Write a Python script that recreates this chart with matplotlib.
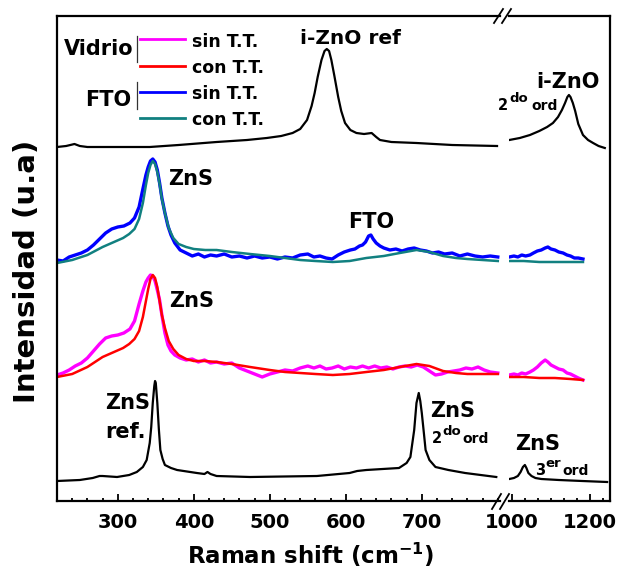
import matplotlib
matplotlib.use("Agg")
import matplotlib.pyplot as plt
from matplotlib.lines import Line2D
from matplotlib.ticker import FixedLocator, MultipleLocator

plt.rcParams['font.family'] = ['DejaVu Sans']
plt.rcParams['font.weight'] = 'bold'
plt.rcParams['mathtext.fontset'] = 'dejavusans'
plt.rcParams['mathtext.default'] = 'bf'

# ---------------- data (left segment: 220-800 cm-1) ----------------
zns_ref_x = [220, 250, 267, 276, 280, 299, 315, 325, 333, 338, 342, 344, 346, 348, 349, 350, 352, 354,
             356, 359, 362, 370, 378, 404, 414, 418, 422, 430, 474, 562, 605, 615, 627, 670, 680, 685,
             690, 693, 696, 698, 700, 703, 705, 710, 718, 735, 757, 798]
zns_ref_y = [20, 21, 23, 25, 25, 24, 26, 29, 34, 41, 58, 74, 98, 115, 120, 118, 98, 72,
             51, 42, 36, 33, 31, 28, 27, 29, 27, 25, 24, 25, 28, 30, 31, 33, 38, 44,
             71, 98, 108, 100, 88, 66, 51, 41, 34, 31, 28, 24]

izno_ref_x = [220, 232, 243, 250, 260, 300, 342, 380, 430, 470, 496, 515, 530, 540, 549, 555, 559, 563,
              568, 572, 575, 578, 581, 585, 590, 594, 599, 606, 614, 624, 634, 640, 645, 660, 693, 740, 799]
izno_ref_y = [354, 355, 357, 355, 354, 354, 354, 356, 359, 361, 363, 365, 368, 372, 381, 395, 408, 424,
              441, 450, 452, 450, 441, 425, 404, 390, 378, 371, 368, 367, 368, 364, 361, 359, 358, 356, 355]

fto_sin_x = [220, 228, 236, 244, 252, 260, 268, 276, 284, 292, 300, 308, 316, 322, 328, 333, 337, 340,
             343, 346, 349, 352, 355, 358, 362, 366, 370, 375, 382, 390, 398, 406, 414, 422, 430, 440,
             450, 460, 470, 480, 490, 500, 510, 520, 530, 540, 550, 558, 566, 574, 582, 590, 598, 606,
             612, 618, 622, 626, 630, 633, 636, 640, 645, 650, 658, 666, 674, 682, 690, 698, 706, 714,
             722, 730, 740, 750, 760, 770, 780, 790, 800]
fto_sin_y = [241, 240, 244, 246, 248, 251, 256, 262, 268, 272, 274, 275, 278, 283, 294, 312, 326, 334,
             340, 342, 339, 331, 318, 303, 288, 275, 266, 258, 251, 248, 245, 247, 244, 246, 245, 247,
             244, 245, 243, 245, 243, 244, 242, 244, 243, 246, 247, 244, 245, 243, 242, 246, 249, 251,
             252, 255, 256, 259, 265, 266, 262, 258, 255, 253, 251, 252, 250, 252, 253, 251, 250, 248,
             249, 247, 248, 245, 247, 245, 244, 245, 244]

smooth_x = [220, 240, 260, 280, 295, 307, 315, 322, 328, 333, 337, 340, 343, 346, 349, 352, 355, 358,
            362, 367, 373, 380, 390, 400, 415, 430, 450, 474, 500, 520, 540, 560, 583, 605, 627, 650,
            671, 693, 710, 728, 745, 760, 780, 800]
fto_con_y = [238, 241, 246, 254, 259, 263, 267, 272, 282, 298, 316, 328, 336, 340, 337, 329, 317, 302,
             288, 273, 263, 257, 254, 252, 251, 251, 249, 247, 245, 243, 241, 240, 239, 240, 243, 245,
             248, 251, 249, 245, 243, 242, 241, 240]
vid_con_y = [124, 127, 134, 144, 149, 153, 157, 162, 170, 184, 200, 212, 222, 226, 223, 214, 200, 186,
             173, 160, 152, 146, 142, 140, 140, 139, 137, 134, 131, 129, 128, 127, 126, 127, 129, 131,
             134, 137, 135, 130, 128, 127, 127, 127]

vid_sin_x = [220, 228, 236, 244, 252, 260, 268, 276, 284, 292, 300, 308, 316, 322, 328, 333, 337, 340,
             343, 346, 349, 352, 355, 358, 362, 366, 370, 375, 382, 390, 398, 406, 414, 422, 430, 440,
             450, 460, 470, 480, 490, 500, 510, 520, 530, 540, 550, 558, 566, 574, 582, 590, 598, 606,
             614, 622, 630, 638, 646, 654, 662, 670, 678, 686, 694, 702, 710, 718, 726, 734, 742, 750,
             758, 766, 774, 782, 790, 800]
vid_sin_y = [126, 128, 131, 135, 138, 143, 150, 157, 163, 165, 166, 168, 172, 180, 197, 210, 219, 223,
             226, 225, 220, 211, 201, 186, 168, 156, 150, 146, 143, 141, 142, 139, 141, 138, 139, 137,
             138, 133, 130, 127, 124, 127, 129, 131, 130, 133, 135, 133, 135, 132, 133, 135, 132, 134,
             133, 135, 133, 135, 133, 134, 132, 134, 135, 134, 136, 134, 130, 126, 127, 129, 130, 131,
             133, 132, 134, 131, 129, 128]

# ---------------- data (right segment: 990-1250 cm-1) ----------------
zns_ref_rx = [993, 1005, 1015, 1022, 1028, 1033, 1037, 1042, 1050, 1060, 1075, 1120, 1180, 1244]
zns_ref_ry = [22, 23, 25, 29, 34, 36, 33, 28, 25, 23, 22, 21, 20, 19]

izno_ref_rx = [993, 1020, 1046, 1070, 1090, 1105, 1118, 1128, 1136, 1142, 1146, 1150, 1156, 1162, 1170,
               1182, 1195, 1208, 1222, 1238]
izno_ref_ry = [361, 363, 366, 370, 374, 378, 384, 391, 398, 404, 406, 404, 398, 390, 377,
               366, 361, 358, 355, 353]

noisy_rx = [993, 1005, 1015, 1025, 1035, 1046, 1055, 1065, 1075, 1085, 1092, 1100, 1110, 1120, 1131,
            1141, 1150, 1160, 1170, 1182]
fto_sin_ry = [244, 245, 244, 246, 245, 246, 248, 250, 251, 253, 254, 252, 251, 249, 248,
              246, 245, 243, 243, 242]
vid_sin_ry = [126, 127, 126, 128, 127, 129, 131, 134, 138, 141, 139, 136, 134, 132, 131,
              128, 127, 125, 123, 121]
smooth_rx = [993, 1030, 1070, 1110, 1150, 1182]
fto_con_ry = [240, 240, 239, 239, 239, 239]
vid_con_ry = [124, 124, 123, 123, 122, 121]

left_ticks = [300, 400, 500, 600, 700]
right_ticks = [1000, 1200]

C_MAG, C_RED, C_BLUE, C_TEAL = '#FF00FF', '#FF0000', '#0000FF', '#118080'

W, H = 618, 569
fig = plt.figure(figsize=(W / 100, H / 100), dpi=100)

def fx(px):
    return px / W

def fy(py):
    return 1 - py / H

axL = fig.add_axes([fx(57), fy(501), fx(500) - fx(57), fy(16) - fy(501)])
axR = fig.add_axes([fx(509), fy(501), fx(610) - fx(509), fy(16) - fy(501)])

for ax in (axL, axR):
    ax.set_ylim(0, 485)
    ax.set_yticks([])
    for s in ax.spines.values():
        s.set_linewidth(1.6)
    ax.tick_params(axis='x', which='both', direction='in', top=False, width=1.3,
                   labelsize=14, pad=8.5)
    ax.tick_params(axis='x', which='major', length=5)
    ax.tick_params(axis='x', which='minor', length=2.5)

axL.set_xlim(220, 802.9)
axR.set_xlim(992.3, 1251.3)
axL.spines['right'].set_visible(False)
axR.spines['left'].set_visible(False)
axL.xaxis.set_major_locator(FixedLocator(left_ticks))
axL.xaxis.set_minor_locator(MultipleLocator(20))
axR.xaxis.set_major_locator(FixedLocator(right_ticks))
axR.xaxis.set_minor_locator(MultipleLocator(100 / 3))

# curves
axL.plot(zns_ref_x, zns_ref_y, color='black', lw=1.6)
axL.plot(izno_ref_x, izno_ref_y, color='black', lw=1.6)
axL.plot(fto_sin_x, fto_sin_y, color=C_BLUE, lw=2.4)
axL.plot(smooth_x, fto_con_y, color=C_TEAL, lw=1.8)
axL.plot(vid_sin_x, vid_sin_y, color=C_MAG, lw=2.4)
axL.plot(smooth_x, vid_con_y, color=C_RED, lw=1.8)

axR.plot(zns_ref_rx, zns_ref_ry, color='black', lw=1.6)
axR.plot(izno_ref_rx, izno_ref_ry, color='black', lw=1.6)
axR.plot(noisy_rx, fto_sin_ry, color=C_BLUE, lw=2.4)
axR.plot(smooth_rx, fto_con_ry, color=C_TEAL, lw=1.8)
axR.plot(noisy_rx, vid_sin_ry, color=C_MAG, lw=2.4)
axR.plot(smooth_rx, vid_con_ry, color=C_RED, lw=1.8)

# axis break marks
for (x0, y0, x1, y1) in [(494, 23, 503, 9), (502, 23, 511, 9),
                         (492, 509, 501, 494), (500, 509, 509, 494)]:
    fig.add_artist(Line2D([fx(x0), fx(x1)], [fy(y0), fy(y1)], color='black', lw=1.3))

# legend-like block
for py, col in [(39, C_MAG), (66, C_RED), (92, C_BLUE), (118, C_TEAL)]:
    fig.add_artist(Line2D([fx(140), fx(185)], [fy(py), fy(py)], color=col, lw=2.0))
for (a, b) in [(36, 62), (82, 109)]:
    fig.add_artist(Line2D([fx(137), fx(137)], [fy(a), fy(b)], color='#333333', lw=0.9))
fig.text(fx(134), fy(55), 'Vidrio', fontsize=15, ha='right', va='baseline')
fig.text(fx(131), fy(106), 'FTO', fontsize=15, ha='right', va='baseline')
for py, s in [(47, 'sin T.T.'), (73, 'con T.T.'), (99, 'sin T.T.'), (125, 'con T.T.')]:
    fig.text(fx(192), fy(py), s, fontsize=12.5, ha='left', va='baseline')


def order_label(x_num, x_sup, x_ord, base, num, sup):
    fig.text(fx(x_num), fy(base), num, fontsize=10.5, ha='left', va='baseline')
    fig.text(fx(x_sup), fy(base - 8), sup, fontsize=9.5, ha='left', va='baseline')
    fig.text(fx(x_ord), fy(base), 'ord', fontsize=10, ha='left', va='baseline')


# annotations
fig.text(fx(350), fy(44), 'i-ZnO ref', fontsize=14.5, ha='center', va='baseline')
fig.text(fx(568), fy(88), 'i-ZnO', fontsize=15, ha='center', va='baseline')
order_label(498, 509, 531, 110, '2', 'do')
fig.text(fx(168), fy(185), 'ZnS', fontsize=15, ha='left', va='baseline')
fig.text(fx(348), fy(228), 'FTO', fontsize=15, ha='left', va='baseline')
fig.text(fx(169), fy(307), 'ZnS', fontsize=15, ha='left', va='baseline')
fig.text(fx(105), fy(409), 'ZnS', fontsize=15, ha='left', va='baseline')
fig.text(fx(105), fy(438), 'ref.', fontsize=15, ha='left', va='baseline')
fig.text(fx(430), fy(417), 'ZnS', fontsize=15, ha='left', va='baseline')
order_label(432, 442, 462, 443, '2', 'do')
fig.text(fx(515), fy(450), 'ZnS', fontsize=15, ha='left', va='baseline')
order_label(535, 545, 562, 475, '3', 'er')

# axis titles
fig.text(fx(310), fy(564), r'Raman shift (cm$^{-1}$)', fontsize=16.5, ha='center', va='baseline')
fig.text(fx(27), fy(271), 'Intensidad (u.a)', fontsize=21, rotation=90, ha='center', va='center')

fig.savefig('out.png', dpi=100)
